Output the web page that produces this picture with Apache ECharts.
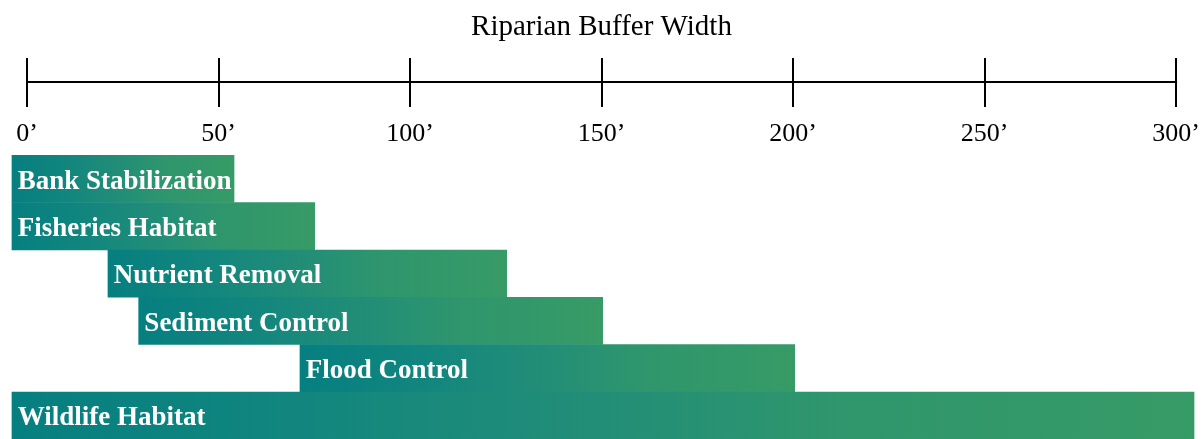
<!DOCTYPE html>
<html>
<head>
<meta charset="utf-8">
<script src="https://cdn.jsdelivr.net/npm/echarts@6/dist/echarts.min.js"></script>
<style>
html,body{margin:0;padding:0;background:#fff;}
#chart{width:1203px;height:439px;}
</style>
</head>
<body>
<div id="chart"></div>
<script>
const categories = ['Bank Stabilization','Fisheries Habitat','Nutrient Removal','Sediment Control','Flood Control','Wildlife Habitat'];
const startValues = [-4, -4, 21, 29, 71, -4];
const endValues = [54, 75, 125, 150, 200, 304];
const axisMin = 0, axisMax = 300, axisInterval = 50;
const titleText = 'Riparian Buffer Width';

const SERIF = '"Liberation Serif","Times New Roman",Times,serif';
const chart = echarts.init(document.getElementById('chart'));
const barData = categories.map((c, i) => [startValues[i], endValues[i], i, c]);

const option = {
  animation: false,
  backgroundColor: '#fff',
  title: {
    text: titleText, left: 'center', top: 8,
    textStyle: {fontFamily: SERIF, fontWeight: 'normal', fontSize: 29, color: '#000'}
  },
  grid: [
    {left: 27, right: 24, top: 58, height: 24},
    {left: 27, right: 24, top: 155, height: 288}
  ],
  xAxis: [
    {gridIndex: 0, type: 'value', min: axisMin, max: axisMax, interval: axisInterval, position: 'bottom',
     axisLine: {show: true, lineStyle: {color: '#000', width: 2}},
     axisTick: {show: true, inside: true, length: 24, lineStyle: {color: '#000', width: 2}},
     axisLabel: {show: false}, splitLine: {show: false}},
    {gridIndex: 0, type: 'value', min: axisMin, max: axisMax, interval: axisInterval, position: 'bottom',
     axisLine: {show: true, lineStyle: {color: '#000', width: 2}},
     axisTick: {show: true, inside: false, length: 25, lineStyle: {color: '#000', width: 2}},
     axisLabel: {show: true, margin: 39, fontFamily: SERIF, fontSize: 26, color: '#000',
       formatter: v => v + '\u2019'},
     splitLine: {show: false}},
    {gridIndex: 1, type: 'value', min: axisMin, max: axisMax, show: false}
  ],
  yAxis: [
    {gridIndex: 0, type: 'value', show: false},
    {gridIndex: 1, type: 'category', data: categories, inverse: true, show: false}
  ],
  series: [{
    type: 'custom',
    xAxisIndex: 2, yAxisIndex: 1,
    clip: false,
    encode: {x: [0, 1], y: 2},
    data: barData,
    renderItem: function (params, api) {
      const idx = api.value(2);
      const p0 = api.coord([api.value(0), idx]);
      const p1 = api.coord([api.value(1), idx]);
      const h = api.size([0, 1])[1];
      const x = p0[0], w = p1[0] - p0[0], y = p0[1] - h / 2;
      return {
        type: 'group',
        children: [
          {type: 'rect', shape: {x: x, y: y, width: w, height: h + 0.5},
           style: {fill: new echarts.graphic.LinearGradient(0, 0, 1, 0, [
             {offset: 0, color: '#067f80'},
             {offset: 0.25, color: '#12867e'},
             {offset: 0.5, color: '#238e77'},
             {offset: 0.7, color: '#2f966d'},
             {offset: 1, color: '#369b66'}
           ])}},
          {type: 'text', x: x + 6, y: p0[1] + 3,
           style: {text: categories[idx], fill: '#fff', font: 'bold 27px ' + SERIF,
                   verticalAlign: 'middle', align: 'left'}}
        ]
      };
    }
  }]
};
chart.setOption(option);
</script>
</body>
</html>
